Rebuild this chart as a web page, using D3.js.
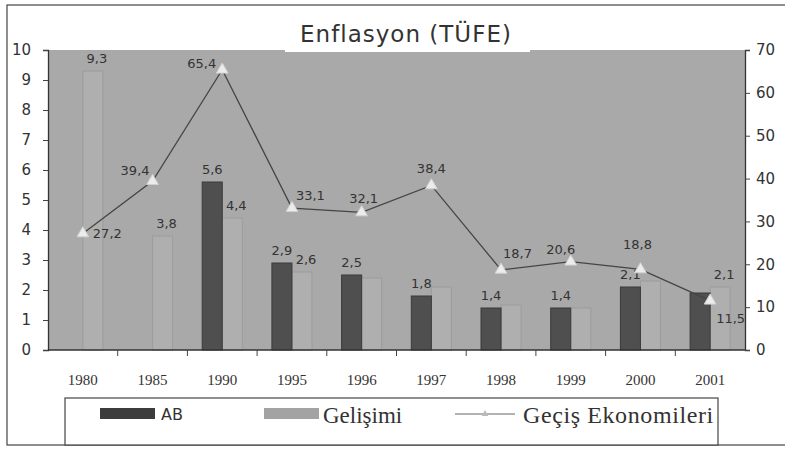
<!DOCTYPE html>
<html>
<head>
<meta charset="utf-8">
<script src="https://cdn.jsdelivr.net/npm/d3@7"></script>
<style>
  body { margin: 0; background: #fff; }
  svg text { fill: #333; }
</style>
</head>
<body>
<div id="chart"></div>
<script>
// data
const years = ["1980", "1985", "1990", "1995", "1996", "1997", "1998", "1999", "2000", "2001"];
const abValues = [null, null, 5.6, 2.9, 2.5, 1.8, 1.4, 1.4, 2.1, 1.9];
const gelValues = [9.3, 3.8, 4.4, 2.6, 2.4, 2.1, 1.5, 1.4, 2.3, 2.1];
const gecisValues = [27.2, 39.4, 65.4, 33.1, 32.1, 38.4, 18.7, 20.6, 18.8, 11.5];
// which bar values carry a label in the picture
const abLabelled = [false, false, true, true, true, true, true, true, true, false];
const gelLabelled = [true, true, true, true, false, false, false, false, false, true];
const leftTicks = [0, 1, 2, 3, 4, 5, 6, 7, 8, 9, 10];
const rightTicks = [0, 10, 20, 30, 40, 50, 60, 70];

const W = 785, H = 449;
const plot = { left: 48, right: 745, top: 50, bottom: 350 };
const fmt = v => d3.format(".1f")(v).replace(".", ",");

const svg = d3.select("#chart").append("svg")
    .attr("width", W)
    .attr("height", H);

// outer frame
svg.append("rect")
   .attr("x", 7).attr("y", 5)
   .attr("width", 800).attr("height", 440)
   .attr("fill", "none").attr("stroke", "#444").attr("stroke-width", 1.2);

const x0 = d3.scaleBand().domain(years).range([plot.left, plot.right])
    .paddingInner(0.425).paddingOuter(0.2125);
const x1 = d3.scaleBand().domain(["AB", "Gel"]).range([0, x0.bandwidth()]);
const yL = d3.scaleLinear().domain([0, 10]).range([plot.bottom, plot.top]);
const yR = d3.scaleLinear().domain([0, 70]).range([plot.bottom, plot.top]);

// plot background
svg.append("rect")
   .attr("x", plot.left).attr("y", plot.top)
   .attr("width", plot.right - plot.left).attr("height", plot.bottom - plot.top)
   .attr("fill", "#a9a9a9");

// title with white box
svg.append("rect")
   .attr("x", 285).attr("y", 16).attr("width", 245).attr("height", 36)
   .attr("fill", "#fff");
svg.append("text")
   .attr("x", 406).attr("y", 42)
   .attr("text-anchor", "middle")
   .style("font-family", "'DejaVu Sans', sans-serif")
   .style("font-size", "23px")
   .style("letter-spacing", "1px")
   .text("Enflasyon (TÜFE)");

const rows = years.map((y, i) => ({
    year: y, ab: abValues[i], gel: gelValues[i], gecis: gecisValues[i],
    abLab: abLabelled[i], gelLab: gelLabelled[i]
}));

// bars
svg.selectAll(".gel").data(rows.filter(d => d.gel != null))
   .enter().append("rect")
   .attr("class", "gel")
   .attr("x", d => x0(d.year) + x1("Gel"))
   .attr("y", d => yL(d.gel))
   .attr("width", x1.bandwidth())
   .attr("height", d => yL(0) - yL(d.gel))
   .attr("fill", "#afafaf")
   .attr("stroke", "#9c9c9c");

svg.selectAll(".ab").data(rows.filter(d => d.ab != null))
   .enter().append("rect")
   .attr("class", "ab")
   .attr("x", d => x0(d.year) + x1("AB"))
   .attr("y", d => yL(d.ab))
   .attr("width", x1.bandwidth())
   .attr("height", d => yL(0) - yL(d.ab))
   .attr("fill", "#4f4f4f")
   .attr("stroke", "#3a3a3a");

const labelFont = "'DejaVu Sans', sans-serif";

svg.selectAll(".ab-label").data(rows.filter(d => d.ab != null && d.abLab))
   .enter().append("text")
   .attr("x", d => x0(d.year) + x1("AB") + x1.bandwidth() / 2)
   .attr("y", d => yL(d.ab) - 8)
   .attr("text-anchor", "middle")
   .style("font-family", labelFont).style("font-size", "13px")
   .text(d => fmt(d.ab));

svg.selectAll(".gel-label").data(rows.filter(d => d.gel != null && d.gelLab))
   .enter().append("text")
   .attr("x", d => x0(d.year) + x1("Gel") + x1.bandwidth() / 2 + 4)
   .attr("y", d => yL(d.gel) - 8)
   .attr("text-anchor", "middle")
   .style("font-family", labelFont).style("font-size", "13px")
   .text(d => fmt(d.gel));

// line series on the right axis
const cx = d => x0(d.year) + x0.bandwidth() / 2;
svg.append("path")
   .datum(rows)
   .attr("fill", "none")
   .attr("stroke", "#454545")
   .attr("stroke-width", 1.3)
   .attr("d", d3.line().x(cx).y(d => yR(d.gecis)));

svg.selectAll(".mark").data(rows)
   .enter().append("path")
   .attr("transform", d => `translate(${cx(d)},${yR(d.gecis)})`)
   .attr("d", d3.symbol().type(d3.symbolTriangle).size(60))
   .attr("fill", "#ececec")
   .attr("stroke", "#d0d0d0");

// label placement around the markers, as in the picture
const placeLine = {
    "1980": [10, 5, "start"], "1985": [-3, -6, "end"], "1990": [-6, -2, "end"],
    "1995": [4, -8, "start"], "1996": [2, -9, "middle"], "1997": [0, -12, "middle"],
    "1998": [2, -12, "start"], "1999": [-10, -8, "middle"], "2000": [-3, -20, "middle"],
    "2001": [6, 22, "start"]
};
svg.selectAll(".line-label").data(rows)
   .enter().append("text")
   .attr("x", d => cx(d) + placeLine[d.year][0])
   .attr("y", d => yR(d.gecis) + placeLine[d.year][1])
   .attr("text-anchor", d => placeLine[d.year][2])
   .style("font-family", labelFont).style("font-size", "13px")
   .text(d => fmt(d.gecis));

// axes
const axisFont = "'DejaVu Sans', sans-serif";
const gL = svg.append("g")
   .attr("transform", `translate(${plot.left},0)`)
   .call(d3.axisLeft(yL).tickValues(leftTicks).tickSize(5).tickPadding(12).tickFormat(d3.format("d")));
const gR = svg.append("g")
   .attr("transform", `translate(${plot.right},0)`)
   .call(d3.axisRight(yR).tickValues(rightTicks).tickSize(5).tickPadding(6).tickFormat(d3.format("d")));
const gB = svg.append("g")
   .attr("transform", `translate(0,${plot.bottom})`)
   .call(d3.axisBottom(x0).tickSize(0).tickPadding(24));

[gL, gR, gB].forEach(g => {
    g.select(".domain").attr("stroke", "#333").attr("stroke-width", 1.3);
    g.selectAll(".tick line").attr("stroke", "#444");
    g.selectAll("text").style("fill", "#333");
});
gL.selectAll("text").style("font-family", axisFont).style("font-size", "15px");
gR.selectAll("text").style("font-family", axisFont).style("font-size", "15px");
gB.selectAll("text").style("font-family", "'Liberation Serif', serif").style("font-size", "15px");
gB.select(".domain").attr("d", `M${plot.left},0H${plot.right}`);

// category separators on the bottom axis
svg.selectAll(".sep").data(years.slice(1))
   .enter().append("line")
   .attr("x1", d => x0(d) - x0.step() * x0.paddingInner() / 2)
   .attr("x2", d => x0(d) - x0.step() * x0.paddingInner() / 2)
   .attr("y1", plot.bottom).attr("y2", plot.bottom + 6)
   .attr("stroke", "#444");

// legend
const lg = svg.append("g");
lg.append("rect")
  .attr("x", 65).attr("y", 398).attr("width", 653).attr("height", 47)
  .attr("fill", "#fff").attr("stroke", "#444").attr("stroke-width", 1.2);
lg.append("rect").attr("x", 100).attr("y", 408).attr("width", 55).attr("height", 11).attr("fill", "#3c3c3c");
lg.append("text").attr("x", 161).attr("y", 420)
  .style("font-family", axisFont).style("font-size", "16px").text("AB");
lg.append("rect").attr("x", 264).attr("y", 408).attr("width", 55).attr("height", 11).attr("fill", "#a3a3a3");
lg.append("text").attr("x", 323).attr("y", 423)
  .style("font-family", "'Liberation Serif', serif").style("font-size", "23px").text("Gelişimi");
lg.append("line").attr("x1", 455).attr("x2", 515).attr("y1", 414).attr("y2", 414)
  .attr("stroke", "#666").attr("stroke-width", 1.2);
lg.append("path").attr("transform", "translate(485,414)")
  .attr("d", d3.symbol().type(d3.symbolTriangle).size(20)).attr("fill", "#bbb");
lg.append("text").attr("x", 523).attr("y", 423)
  .style("font-family", "'Liberation Serif', serif").style("font-size", "24px")
  .style("letter-spacing", "0.6px").text("Geçiş Ekonomileri");
</script>
</body>
</html>
